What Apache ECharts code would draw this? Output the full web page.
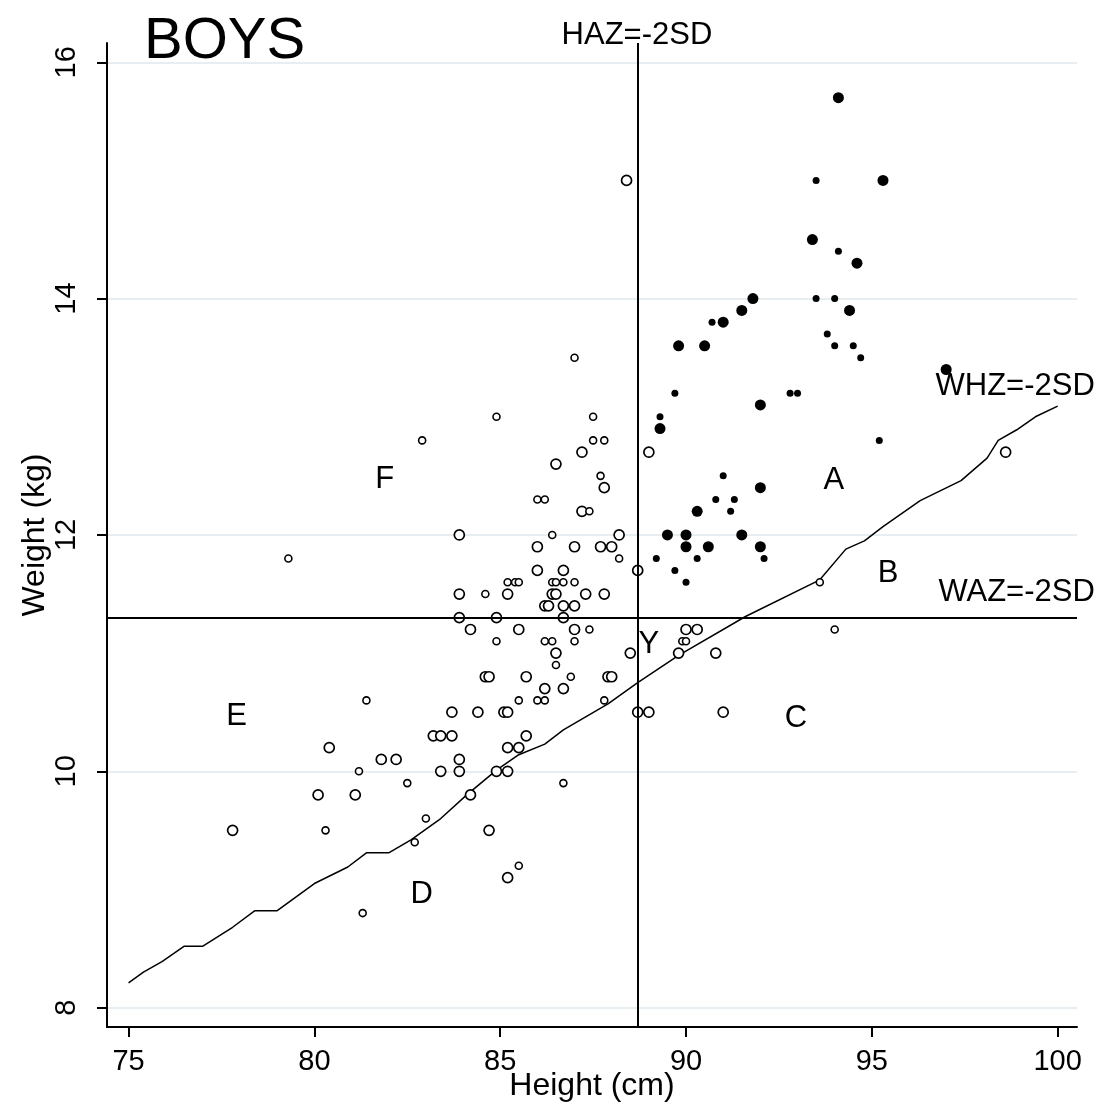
<!DOCTYPE html>
<html>
<head>
<meta charset="utf-8">
<title>BOYS - weight by height</title>
<script src="https://cdn.jsdelivr.net/npm/echarts@6/dist/echarts.min.js"></script>
<style>
  html, body { margin: 0; padding: 0; background: #fff; }
  #chart { width: 1100px; height: 1108px; }
</style>
</head>
<body>
<div id="chart"></div>
<script>
// axis ticks
var heightTicks = [75, 80, 85, 90, 95, 100];
var weightTicks = [8, 10, 12, 14, 16];

// cut-offs
var hazCut = 88.7;
var wazCut = 11.3;

// WHZ = -2SD reference curve
var whzHeight = [75.0, 75.4, 75.9, 76.5, 77.0, 77.8, 78.4, 79.0, 80.0, 80.9, 81.4, 82.0,
  82.6, 83.4, 84.1, 84.9, 85.5, 86.2, 86.7, 87.9, 88.7, 89.8, 91.6, 93.6, 94.3, 94.8,
  95.3, 96.3, 97.4, 98.1, 98.4, 98.9, 99.4, 100.0];
var whzWeight = [8.21, 8.30, 8.39, 8.52, 8.52, 8.68, 8.82, 8.82, 9.05, 9.19, 9.31, 9.31,
  9.42, 9.60, 9.80, 10.01, 10.14, 10.23, 10.35, 10.57, 10.75, 10.98, 11.31, 11.62, 11.88, 11.95,
  12.07, 12.29, 12.46, 12.65, 12.80, 12.89, 13.00, 13.09];

// children [height, weight]
var filledBig = [
  [94.1, 15.7], [95.3, 15.0], [93.4, 14.5], [94.6, 14.3], [91.8, 14.0], [91.5, 13.9],
  [94.4, 13.9], [91.0, 13.8], [89.8, 13.6], [90.5, 13.6], [97.0, 13.4], [92.0, 13.1],
  [89.3, 12.9], [92.0, 12.4], [90.3, 12.2], [89.5, 12.0], [90.0, 12.0], [91.5, 12.0],
  [90.0, 11.9], [90.6, 11.9], [92.0, 11.9]
];
var filledSmall = [
  [93.5, 15.0], [94.1, 14.4], [93.5, 14.0], [94.0, 14.0], [90.7, 13.8], [93.8, 13.7],
  [94.0, 13.6], [94.5, 13.6], [94.7, 13.5], [89.7, 13.2], [92.8, 13.2], [93.0, 13.2],
  [89.3, 13.0], [95.2, 12.8], [91.0, 12.5], [90.8, 12.3], [91.3, 12.3], [91.2, 12.2],
  [89.2, 11.8], [90.3, 11.8], [92.1, 11.8], [89.7, 11.7], [90.0, 11.6]
];
var openBig = [
  [88.4, 15.0], [87.2, 12.7], [89.0, 12.7], [98.6, 12.7], [86.5, 12.6], [87.8, 12.4],
  [87.2, 12.2], [83.9, 12.0], [88.2, 12.0], [86.0, 11.9], [87.0, 11.9], [87.7, 11.9],
  [88.0, 11.9], [86.0, 11.7], [86.7, 11.7], [88.7, 11.7], [83.9, 11.5], [85.2, 11.5],
  [86.4, 11.5], [86.5, 11.5], [87.3, 11.5], [87.8, 11.5], [86.2, 11.4], [86.3, 11.4],
  [86.7, 11.4], [87.0, 11.4], [83.9, 11.3], [84.9, 11.3], [86.7, 11.3], [84.2, 11.2],
  [85.5, 11.2], [87.0, 11.2], [90.0, 11.2], [90.3, 11.2], [86.5, 11.0], [88.5, 11.0],
  [89.8, 11.0], [90.8, 11.0], [84.6, 10.8], [84.7, 10.8], [85.7, 10.8], [87.9, 10.8],
  [88.0, 10.8], [86.2, 10.7], [86.7, 10.7], [83.7, 10.5], [84.4, 10.5], [85.1, 10.5],
  [85.2, 10.5], [88.7, 10.5], [89.0, 10.5], [91.0, 10.5], [83.2, 10.3], [83.4, 10.3],
  [83.7, 10.3], [85.7, 10.3], [80.4, 10.2], [85.2, 10.2], [85.5, 10.2], [81.8, 10.1],
  [82.2, 10.1], [83.9, 10.1], [83.4, 10.0], [83.9, 10.0], [84.9, 10.0], [85.2, 10.0],
  [80.1, 9.8], [81.1, 9.8], [84.2, 9.8], [77.8, 9.5], [84.7, 9.5], [85.2, 9.1]
];
var openSmall = [
  [87.0, 13.5], [84.9, 13.0], [87.5, 13.0], [82.9, 12.8], [87.5, 12.8], [87.8, 12.8],
  [87.7, 12.5], [86.0, 12.3], [86.2, 12.3], [87.4, 12.2], [86.4, 12.0], [79.3, 11.8],
  [88.2, 11.8], [85.2, 11.6], [85.4, 11.6], [85.5, 11.6], [86.4, 11.6], [86.5, 11.6],
  [86.7, 11.6], [87.0, 11.6], [93.6, 11.6], [84.6, 11.5], [87.4, 11.2], [94.0, 11.2],
  [84.9, 11.1], [86.2, 11.1], [86.4, 11.1], [87.0, 11.1], [89.9, 11.1], [90.0, 11.1],
  [86.5, 10.9], [86.9, 10.8], [85.5, 10.6], [86.0, 10.6], [86.2, 10.6], [87.8, 10.6],
  [81.4, 10.6], [81.2, 10.0], [82.5, 9.9], [86.7, 9.9], [83.0, 9.6], [80.3, 9.5],
  [82.7, 9.4], [85.5, 9.2], [81.3, 8.8]
];

// text annotations [height, weight, text]
var notes = [
  [88.68, 16.23, 'HAZ=-2SD'],
  [101.0, 13.26, 'WHZ=-2SD'],
  [101.0, 11.51, 'WAZ=-2SD'],
  [81.89, 12.47, 'F'],
  [93.98, 12.46, 'A'],
  [95.44, 11.67, 'B'],
  [77.91, 10.46, 'E'],
  [89.0, 11.07, 'Y'],
  [92.96, 10.45, 'C'],
  [82.89, 8.96, 'D']
];

var FONT = '"Liberation Sans", Arial, sans-serif';

var whzLine = [];
for (var i = 0; i < whzHeight.length; i++) {
  whzLine.push([whzHeight[i], whzWeight[i]]);
}

var noteData = notes.map(function(n) {
  return {
    name: n[2],
    value: [n[0], n[1]],
    label: { align: n[0] > 100 ? 'right' : 'center' }
  };
});

var chart = echarts.init(document.getElementById('chart'));

var option = {
  backgroundColor: '#fff',
  animation: false,
  title: {
    text: 'BOYS',
    left: 139,
    top: 8,
    textStyle: { fontFamily: FONT, fontSize: 58, fontWeight: 'normal', color: '#000' }
  },
  grid: { left: 107, right: 23, top: 43, bottom: 81, containLabel: false, outerBoundsMode: 'none' },
  xAxis: {
    type: 'value',
    min: 74.42,
    max: 100.52,
    name: 'Height (cm)',
    nameLocation: 'middle',
    nameGap: 43,
    nameMoveOverlap: false,
    nameTextStyle: { fontFamily: FONT, fontSize: 32, color: '#000' },
    axisLine: { lineStyle: { color: '#000', width: 2 } },
    axisTick: { length: 10, lineStyle: { color: '#000', width: 2 }, customValues: heightTicks },
    axisLabel: { fontFamily: FONT, fontSize: 29, color: '#000', margin: 20, customValues: heightTicks },
    splitLine: { show: false }
  },
  yAxis: {
    type: 'value',
    min: 7.836,
    max: 16.163,
    name: 'Weight (kg)',
    nameLocation: 'middle',
    nameGap: 56,
    nameMoveOverlap: false,
    nameTextStyle: { fontFamily: FONT, fontSize: 32, color: '#000' },
    axisLine: { lineStyle: { color: '#000', width: 2 } },
    axisTick: { length: 10, lineStyle: { color: '#000', width: 2 }, customValues: weightTicks },
    axisLabel: { fontFamily: FONT, fontSize: 29, color: '#000', margin: 26, rotate: 90, customValues: weightTicks },
    splitLine: { show: true, lineStyle: { color: '#e6eef2', width: 2 } }
  },
  series: [
    {
      name: 'WHZ=-2SD',
      type: 'line',
      data: whzLine,
      symbol: 'none',
      lineStyle: { color: '#000', width: 1.5 },
      z: 2,
      markLine: {
        silent: true,
        symbol: ['none', 'none'],
        label: { show: false },
        lineStyle: { color: '#000', width: 2, type: 'solid' },
        data: [{ xAxis: hazCut }, { yAxis: wazCut }]
      }
    },
    {
      name: 'open',
      type: 'scatter',
      data: openBig,
      symbol: 'circle',
      symbolSize: 10,
      itemStyle: { color: '#fff', borderColor: '#000', borderWidth: 1.7, opacity: 1 },
      z: 3
    },
    {
      name: 'open small',
      type: 'scatter',
      data: openSmall,
      symbol: 'circle',
      symbolSize: 7,
      itemStyle: { color: '#fff', borderColor: '#000', borderWidth: 1.6, opacity: 1 },
      z: 3
    },
    {
      name: 'filled',
      type: 'scatter',
      data: filledBig,
      symbol: 'circle',
      symbolSize: 11,
      itemStyle: { color: '#000', opacity: 1 },
      z: 4
    },
    {
      name: 'filled small',
      type: 'scatter',
      data: filledSmall,
      symbol: 'circle',
      symbolSize: 7,
      itemStyle: { color: '#000', opacity: 1 },
      z: 4
    },
    {
      name: 'notes',
      type: 'scatter',
      data: noteData,
      symbolSize: 1,
      clip: false,
      silent: true,
      itemStyle: { color: 'rgba(0,0,0,0)', opacity: 1 },
      label: {
        show: true,
        position: 'inside',
        formatter: '{b}',
        fontFamily: FONT,
        fontSize: 31,
        color: '#000',
        opacity: 1,
        verticalAlign: 'middle'
      },
      z: 5
    }
  ]
};

chart.setOption(option);
</script>
</body>
</html>
